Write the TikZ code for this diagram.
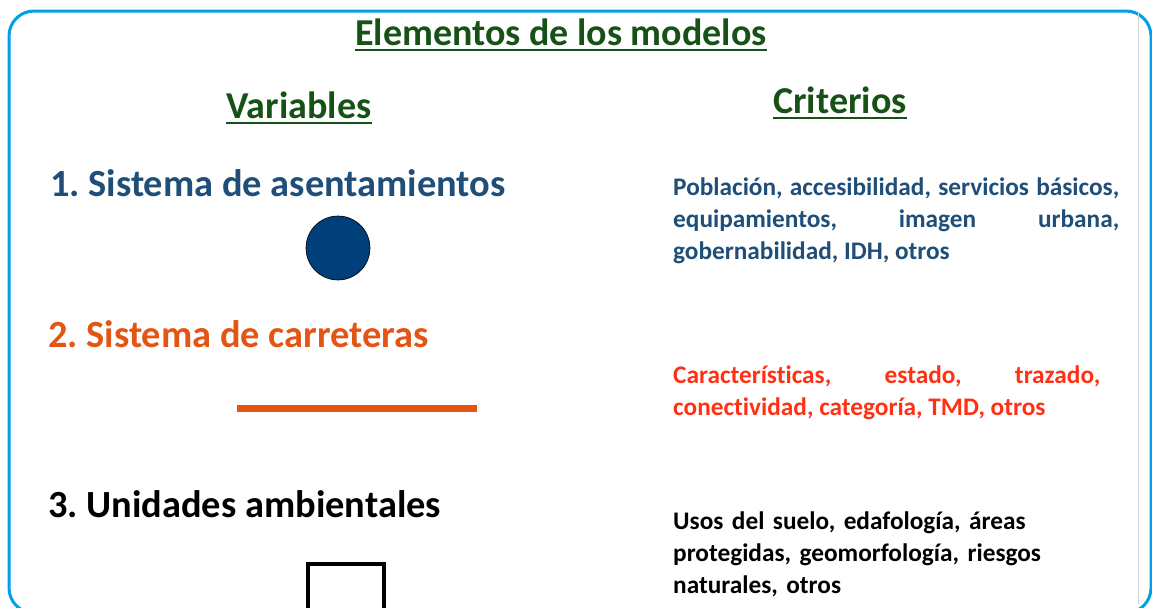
\documentclass[tikz,border=0pt]{standalone}
\usepackage{fontspec}
\setmainfont{Carlito}[Ligatures=NoCommon]
\usepackage{tikz}
\usetikzlibrary{positioning}
\definecolor{frameblue}{RGB}{0,160,230}
\definecolor{titlegreen}{RGB}{22,82,22}
\definecolor{setblue}{RGB}{31,78,121}
\definecolor{roadorange}{RGB}{228,85,20}
\definecolor{critred}{RGB}{255,48,20}
\definecolor{dotblue}{RGB}{0,63,122}
\frenchspacing

\begin{document}
\begin{tikzpicture}[x=1pt, y=-1pt, every node/.style={inner sep=0pt},
  heading/.style={anchor=base, text=titlegreen, font=\fontsize{38}{40}\selectfont\bfseries},
  varlabel/.style={anchor=base west, font=\fontsize{38.4}{40}\selectfont\bfseries},
  criteria/.style={anchor=base west, align=justify, font=\fontsize{25.3}{32}\selectfont\bfseries}]
  \useasboundingbox (0,0) rectangle (1152,608);
  \draw[frameblue, line width=3pt, rounded corners=25pt] (9,11) rectangle (1151,613);
  \draw[black!18, line width=0.8pt] (1138,12) -- (1138,604);
  % headings
  \node[heading] (title) at (561,45) {Elementos de los modelos};
  \node[heading] (vars) at (299,118) {Variables};
  \node[heading] (crit) at (840,113) {Criterios};
  \foreach \h in {title, vars, crit}
    \draw[titlegreen, line width=2.5pt] ([yshift=-5pt]\h.base west) -- ([yshift=-5pt]\h.base east);
  % variables
  \node[varlabel, text=setblue] (settle) at (50,196) {1. Sistema de asentamientos};
  \node[varlabel, text=roadorange] (roads) at (48,347) {2. Sistema de carreteras};
  \node[varlabel] (units) at (48,517) {3. Unidades ambientales};
  \node[circle, fill=dotblue, draw=black, line width=0.6pt, minimum size=64pt] (dot) at (338,248) {};
  \draw[roadorange, line width=7pt] (237,408) -- (477,408);
  \node[draw, line width=4pt, minimum width=76pt, minimum height=48pt] (box) at (346,588) {};
  % criterios
  \node[criteria, text=setblue, text width=446pt] (crit1) at (673,195)
    {Población, accesibilidad, servicios básicos,\linebreak equipamientos, imagen urbana,\linebreak gobernabilidad, IDH, otros};
  \node[criteria, text=critred, text width=427pt] (crit2) at (673,383)
    {Características, estado, trazado,\linebreak conectividad, categoría, TMD, otros};
  \node[criteria, align=left, text width=446pt] (crit3) at (673,529)
    {Usos del suelo, edafología, áreas\\ protegidas, geomorfología, riesgos\\ naturales, otros};
\end{tikzpicture}
\end{document}
